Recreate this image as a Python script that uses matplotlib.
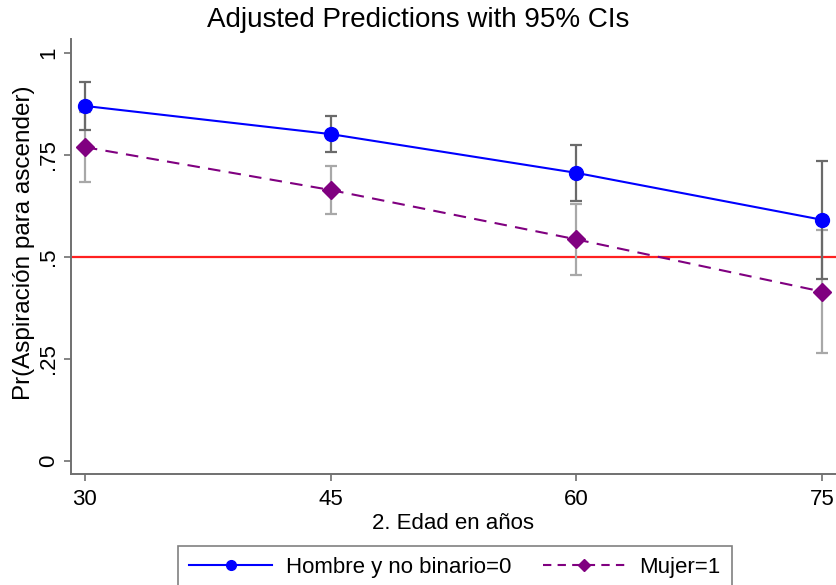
import matplotlib
matplotlib.use("Agg")
import matplotlib.pyplot as plt
from matplotlib.lines import Line2D

plt.rcParams["font.family"] = ["Liberation Sans", "DejaVu Sans"]

# ── Data ──────────────────────────────────────────────────────────────────────
edad      = [30, 45, 60, 75]
hombre    = [0.870, 0.801, 0.706, 0.591]
hombre_ci = [0.059, 0.045, 0.069, 0.145]
mujer     = [0.769, 0.664, 0.543, 0.415]
mujer_ci  = [0.086, 0.058, 0.087, 0.150]

BLUE   = "#0000ff"
PURPLE = "#800080"

fig = plt.figure(figsize=(8.37, 5.85), dpi=100)
ax = fig.add_axes([0.0848, 0.1897, 0.914, 0.7436])

ax.axhline(0.5, color="#ff2020", linewidth=1.6, zorder=1)

ax.errorbar(edad, mujer, yerr=mujer_ci, fmt="none", ecolor="#a8a8a8",
            elinewidth=1.6, capsize=4.3, capthick=1.6, zorder=2)
ax.errorbar(edad, hombre, yerr=hombre_ci, fmt="none", ecolor="#6a6a6a",
            elinewidth=1.6, capsize=4.3, capthick=1.6, zorder=2)

ax.plot(edad, hombre, color=BLUE, linewidth=1.5, marker="o",
        markersize=10, zorder=3)
ax.plot(edad, mujer, color=PURPLE, linewidth=1.5, linestyle=(0, (6, 4)),
        marker="D", markersize=9.5, zorder=3)

ax.set_xlim(29.15, 75.85)
ax.set_ylim(-0.032, 1.034)
ax.set_xticks(edad)
ax.set_yticks([0, 0.25, 0.5, 0.75, 1])
ax.set_yticklabels(["0", ".25", ".5", ".75", "1"], rotation=90, va="center")
ax.tick_params(labelsize=16, color="#707070", length=5, width=1.2)
ax.tick_params(axis="x", pad=6)

for side in ["top", "right"]:
    ax.spines[side].set_visible(False)
for side in ["left", "bottom"]:
    ax.spines[side].set_color("#707070")
    ax.spines[side].set_linewidth(1.4)

ax.set_xlabel("2. Edad en años", fontsize=16)
ax.xaxis.set_label_coords(0.5, -0.0886)
ax.set_ylabel("Pr(Aspiración para ascender)", fontsize=17.5)
ax.yaxis.set_label_coords(-0.0475, 0.531)
fig.suptitle("Adjusted Predictions with 95% CIs", fontsize=20, x=0.5, y=0.9655,
             va="center")

handles = [
    Line2D([], [], color=BLUE, linewidth=1.5, marker="o", markersize=7),
    Line2D([], [], color=PURPLE, linewidth=1.5, linestyle=(0, (4, 3)),
           marker="D", markersize=6.6),
]
leg = fig.legend(handles, ["Hombre y no binario=0", "Mujer=1"],
                 loc="upper center", bbox_to_anchor=(0.5436, 0.0667), ncol=2,
                 fontsize=16, frameon=True, fancybox=False, handlelength=3.7,
                 handletextpad=0.65, columnspacing=1.4, borderpad=0.5,
                 borderaxespad=0)
leg.get_frame().set_edgecolor("#606060")
leg.get_frame().set_linewidth(1.2)

fig.savefig("out.png", dpi=100)
